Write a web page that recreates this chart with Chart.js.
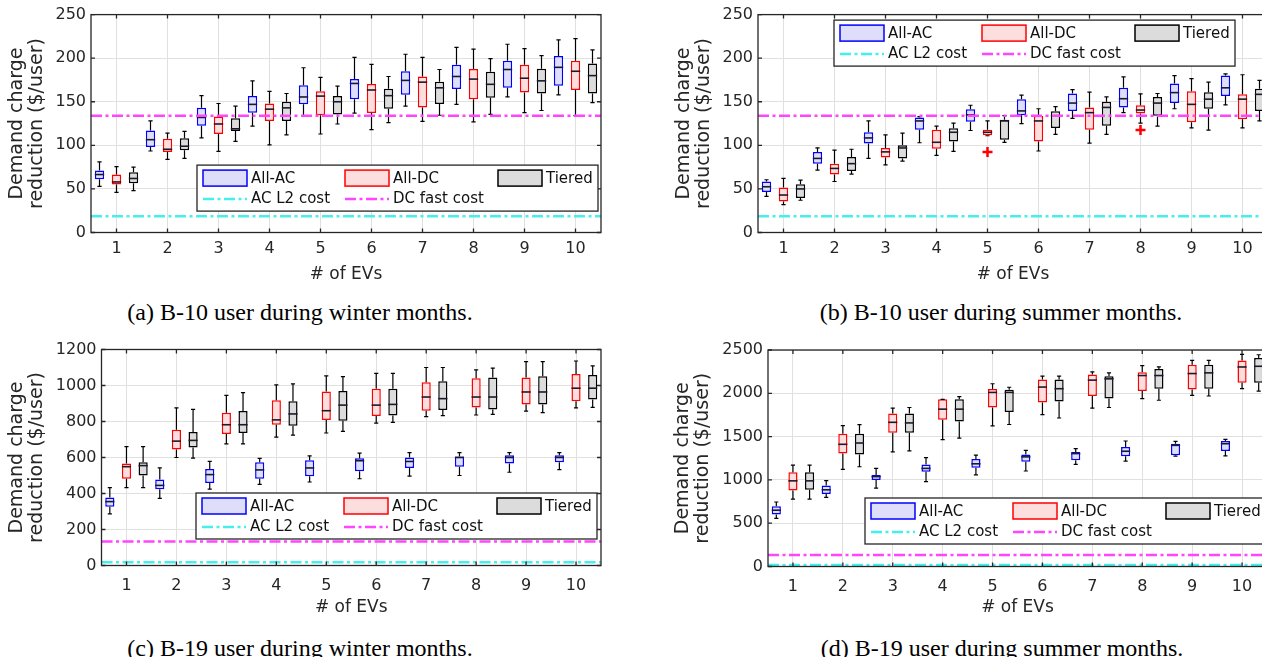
<!DOCTYPE html>
<html>
<head>
<meta charset="utf-8">
<script src="https://cdn.jsdelivr.net/npm/chart.js@4.4.0/dist/chart.umd.min.js"></script>
<style>
  body { margin: 0; width: 1262px; height: 657px; overflow: hidden; background: #fff; position: relative; }
  canvas { position: absolute; }
  .cap { position: absolute; width: 600px; text-align: center; white-space: nowrap;
         font-family: "Liberation Serif", "Times New Roman", serif; font-size: 24px; line-height: 28px; color: #000; }
</style>
</head>
<body>
<canvas id="chartA" width="610" height="290" style="left:0;top:0"></canvas>
<canvas id="chartB" width="610" height="290" style="left:667px;top:0"></canvas>
<canvas id="chartC" width="610" height="289" style="left:0;top:334px"></canvas>
<canvas id="chartD" width="610" height="289" style="left:666px;top:334px"></canvas>
<div class="cap" style="left:0;top:298px">(a) B-10 user during winter months.</div>
<div class="cap" style="left:701px;top:298px">(b) B-10 user during summer months.</div>
<div class="cap" style="left:0;top:634px">(c) B-19 user during winter months.</div>
<div class="cap" style="left:702px;top:634px">(d) B-19 user during summer months.</div>
<script>
const evCounts = ['1', '2', '3', '4', '5', '6', '7', '8', '9', '10'];
const seriesNames = ['All-AC', 'All-DC', 'Tiered'];
const costNames = ['AC L2 cost', 'DC fast cost'];
const costValues = [18.7, 134];

const yTicksB10 = [0, 50, 100, 150, 200, 250];
const yTicksB19Winter = [0, 200, 400, 600, 800, 1000, 1200];
const yTicksB19Summer = [0, 500, 1000, 1500, 2000, 2500];

// each box: [low whisker, q1, median, q3, high whisker]
const b10WinterAC = [[53, 61, 66.5, 71, 81], [93.5, 98, 106.5, 117, 128], [108.5, 122.5, 132, 143, 157], [122, 137.5, 147, 156.5, 174], [134, 147, 155.5, 169, 189], [137, 153, 171, 176, 201], [145, 158, 174.5, 185, 204.5], [147, 164.5, 179, 192.5, 212.5], [155.5, 166, 187, 197, 216], [158, 168.5, 189.5, 202.5, 221]];
const b10WinterDC = [[46, 55, 58, 66.5, 75.5], [84, 92.5, 95.5, 107.5, 114], [93, 113, 124.5, 133, 148], [100.5, 128, 141.5, 148, 162], [113, 134.5, 156.5, 162, 178], [118, 137, 163.5, 170.5, 193], [127.5, 143.5, 172.5, 179, 201], [127, 153, 176, 187.5, 210.5], [137.5, 160.5, 177, 192.5, 211], [134, 163.5, 185, 197, 222.5]];
const b10WinterTiered = [[48, 56.5, 62, 69, 75], [85, 94.5, 99, 108, 116], [104.5, 116.5, 119, 131, 145], [112, 128, 143, 150, 159.5], [124.5, 135.5, 150, 156.5, 168], [126, 142, 157, 165, 179], [134.5, 147.5, 166, 173, 187], [135.5, 154.5, 170, 184.5, 199.5], [140, 159.5, 174, 188, 203], [149, 159.5, 180, 194, 209.5]];

const b10SummerAC = [[41.5, 46.5, 52.5, 58.5, 60.5], [71.5, 79, 85, 92.5, 97], [85, 102, 108.5, 115, 128], [103, 118, 128, 132, 133], [117, 127, 135, 141.5, 146], [125, 134.5, 139.5, 153, 157.5], [131, 139.5, 148.5, 159.5, 164], [137.5, 143.5, 153.5, 166, 178.5], [142, 148.5, 160.5, 171, 180], [146.5, 156.5, 166, 180, 182]];
const b10SummerDC = [[32, 35.5, 43, 51.5, 62], [58.5, 66.5, 73.5, 79, 94.5], [77.5, 86, 92.5, 97, 112], [88.5, 96, 103.5, 118, 122], [111, 111.5, 115, 118, 128], [93.5, 104.5, 128, 134, 142], [102.5, 118, 137.5, 143.5, 161], [125.5, 136.5, 140.5, 146, 159], [120, 126.5, 147, 162, 176.5], [120, 130, 153, 158.5, 181]];
const b10SummerTiered = [[37, 39.5, 50, 55.5, 60], [67, 70.5, 79, 86.5, 95.5], [82, 85, 97, 100, 114], [93, 104.5, 115, 119.5, 125.5], [103.5, 106.5, 128, 129.5, 134], [112.5, 120, 134, 139, 144.5], [112.5, 122.5, 143.5, 150, 155.5], [122, 134, 148.5, 155.5, 159.5], [117.5, 142, 153, 161, 172.5], [128, 139.5, 158.5, 165, 174.5]];
const b10SummerDCOutliers = [null, null, null, null, 92.5, null, null, 117.5, null, null];

const b19WinterAC = [[287, 327, 355, 378, 433], [373, 424, 445, 478, 542], [424, 458, 505, 536, 578], [451, 482, 531, 573, 595], [464, 496, 542, 585, 609], [482, 524, 582, 596, 624], [496, 542, 578, 600, 627], [500, 549, 600, 605, 627], [518, 567, 600, 613, 627], [533, 573, 600, 613, 627]];
const b19WinterDC = [[433, 482, 549, 567, 660], [600, 645, 691, 754, 876], [676, 731, 782, 849, 945], [713, 782, 809, 918, 1004], [736, 809, 860, 967, 1054], [791, 831, 891, 982, 1067], [827, 860, 936, 1018, 1100], [836, 878, 936, 1040, 1087], [858, 894, 964, 1045, 1133], [876, 913, 985, 1064, 1136]];
const b19WinterTiered = [[433, 500, 555, 573, 660], [596, 655, 695, 742, 867], [676, 736, 782, 858, 960], [724, 776, 842, 913, 1009], [745, 804, 891, 969, 1049], [795, 833, 895, 982, 1067], [833, 864, 927, 1024, 1100], [840, 867, 936, 1045, 1096], [849, 895, 964, 1051, 1133], [878, 922, 985, 1058, 1109]];

const b19SummerAC = [[555, 601, 650, 696, 745], [798, 836, 886, 935, 992], [905, 1000, 1038, 1057, 1133], [981, 1095, 1133, 1179, 1258], [1057, 1141, 1186, 1240, 1285], [1103, 1209, 1266, 1293, 1342], [1179, 1228, 1304, 1323, 1361], [1217, 1274, 1331, 1380, 1449], [1274, 1285, 1399, 1418, 1445], [1277, 1335, 1418, 1449, 1467]];
const b19SummerDC = [[779, 878, 989, 1087, 1171], [1122, 1304, 1411, 1532, 1627], [1323, 1544, 1665, 1768, 1829], [1464, 1696, 1817, 1931, 1931], [1625, 1835, 2010, 2050, 2110], [1753, 1893, 2072, 2160, 2198], [1829, 1969, 2152, 2217, 2247], [1939, 2026, 2205, 2243, 2319], [1977, 2045, 2228, 2331, 2380], [2053, 2122, 2304, 2380, 2450]];
const b19SummerTiered = [[779, 886, 989, 1087, 1171], [1152, 1293, 1426, 1532, 1639], [1335, 1544, 1658, 1768, 1836], [1483, 1673, 1817, 1931, 1962], [1640, 1785, 2010, 2040, 2070], [1715, 1905, 2053, 2160, 2198], [1836, 1939, 2167, 2198, 2236], [1920, 2053, 2205, 2281, 2304], [1969, 2053, 2236, 2331, 2380], [2026, 2122, 2312, 2407, 2445]];

const edgeColors = ['#0000ff', '#ff0000', '#000000'];
const fillColors = ['rgb(222,222,250)', 'rgb(252,222,222)', 'rgb(220,220,220)'];
const costColors = ['rgb(70,238,238)', 'rgb(255,70,255)'];
const dashDot = [11, 3.5, 3, 3.5];
const axisColor = '#262626';
const sans = '"DejaVu Sans", "Liberation Sans", sans-serif';

function drawLegend(ctx, area, pos) {
    let left = area.left + pos.x, top = area.top + pos.y;
    ctx.save();
    ctx.fillStyle = '#fff';
    ctx.fillRect(left, top, 401, 46);
    ctx.strokeStyle = axisColor;
    ctx.lineWidth = 1.3;
    ctx.strokeRect(left, top, 401, 46);
    ctx.font = '15px ' + sans;
    ctx.textBaseline = 'middle';
    let cols = [6, 148, 301];
    seriesNames.forEach((name, i) => {
        let x = left + cols[i];
        ctx.fillStyle = fillColors[i];
        ctx.fillRect(x, top + 5, 44, 16);
        ctx.strokeStyle = edgeColors[i];
        ctx.lineWidth = 1.5;
        ctx.strokeRect(x, top + 5, 44, 16);
        ctx.fillStyle = '#111';
        ctx.fillText(name, x + 48, top + 14);
    });
    costNames.forEach((name, i) => {
        let x = left + cols[i];
        ctx.strokeStyle = costColors[i];
        ctx.lineWidth = 2.5;
        ctx.setLineDash(dashDot);
        ctx.beginPath();
        ctx.moveTo(x, top + 34);
        ctx.lineTo(x + 44, top + 34);
        ctx.stroke();
        ctx.setLineDash([]);
        ctx.fillStyle = '#111';
        ctx.fillText(name, x + 48, top + 34);
    });
    ctx.restore();
}

const boxPlotPlugin = {
    id: 'boxPlotExtras',
    afterDatasetsDraw(chart) {
        const ctx = chart.ctx;
        const y = chart.scales.y;
        const x = chart.scales.x;
        const area = chart.chartArea;

        // whiskers, medians, outliers
        chart.data.datasets.forEach((ds, i) => {
            chart.getDatasetMeta(i).data.forEach((bar, j) => {
                let s = ds.stats[j];
                let cx = bar.x, w = bar.width, cap = w * 0.45;
                ctx.save();
                ctx.strokeStyle = '#000';
                ctx.lineWidth = 1.2;
                ctx.beginPath();
                ctx.moveTo(cx, y.getPixelForValue(s[3]));
                ctx.lineTo(cx, y.getPixelForValue(s[4]));
                ctx.moveTo(cx, y.getPixelForValue(s[1]));
                ctx.lineTo(cx, y.getPixelForValue(s[0]));
                ctx.moveTo(cx - cap / 2, y.getPixelForValue(s[4]));
                ctx.lineTo(cx + cap / 2, y.getPixelForValue(s[4]));
                ctx.moveTo(cx - cap / 2, y.getPixelForValue(s[0]));
                ctx.lineTo(cx + cap / 2, y.getPixelForValue(s[0]));
                ctx.stroke();
                ctx.strokeStyle = '#1a1a2a';
                ctx.lineWidth = 1.6;
                ctx.beginPath();
                ctx.moveTo(cx - w / 2, y.getPixelForValue(s[2]));
                ctx.lineTo(cx + w / 2, y.getPixelForValue(s[2]));
                ctx.stroke();
                if (ds.outliers && ds.outliers[j] != null) {
                    let oy = y.getPixelForValue(ds.outliers[j]);
                    ctx.strokeStyle = edgeColors[i];
                    ctx.lineWidth = 2.5;
                    ctx.beginPath();
                    ctx.moveTo(cx - 5, oy); ctx.lineTo(cx + 5, oy);
                    ctx.moveTo(cx, oy - 5); ctx.lineTo(cx, oy + 5);
                    ctx.stroke();
                }
                ctx.restore();
            });
        });

        // cost lines
        ctx.save();
        ctx.lineWidth = 2.5;
        ctx.setLineDash(dashDot);
        costValues.forEach((v, i) => {
            let py = y.getPixelForValue(v);
            ctx.strokeStyle = costColors[i];
            ctx.beginPath();
            ctx.moveTo(area.left, py);
            ctx.lineTo(area.right, py);
            ctx.stroke();
        });
        ctx.restore();

        // axes box with inward ticks
        ctx.save();
        ctx.strokeStyle = axisColor;
        ctx.lineWidth = 1.3;
        ctx.strokeRect(area.left, area.top, area.right - area.left, area.bottom - area.top);
        ctx.beginPath();
        x.ticks.forEach((t, k) => {
            let px = x.getPixelForTick(k);
            ctx.moveTo(px, area.bottom); ctx.lineTo(px, area.bottom - 4);
            ctx.moveTo(px, area.top); ctx.lineTo(px, area.top + 4);
        });
        y.ticks.forEach(t => {
            let py = y.getPixelForValue(t.value);
            ctx.moveTo(area.left, py); ctx.lineTo(area.left + 4, py);
            ctx.moveTo(area.right, py); ctx.lineTo(area.right - 4, py);
        });
        ctx.stroke();
        ctx.restore();

        drawLegend(ctx, area, chart.options.plugins.boxPlotExtras.legendPos);
    }
};

function makeChart(id, boxes, outliers, yTicks, lay) {
    let ctx = document.getElementById(id).getContext('2d');
    return new Chart(ctx, {
        type: 'bar',
        data: {
            labels: evCounts,
            datasets: boxes.map((b, i) => ({
                label: seriesNames[i],
                data: b.map(s => [s[1], s[3]]),
                stats: b,
                outliers: outliers[i],
                backgroundColor: fillColors[i],
                borderColor: edgeColors[i],
                borderWidth: 1.5,
                borderSkipped: false,
                categoryPercentage: 1.0,
                barPercentage: 0.55
            }))
        },
        options: {
            responsive: false,
            animation: false,
            layout: { autoPadding: false, padding: { top: lay.padTop, right: 9, left: 0, bottom: 0 } },
            plugins: {
                legend: { display: false },
                tooltip: { enabled: false },
                boxPlotExtras: { legendPos: lay.legend }
            },
            scales: {
                x: {
                    offset: true,
                    grid: { offset: false, drawTicks: false, color: '#e0e0e0' },
                    border: { display: false },
                    ticks: { color: axisColor, font: { family: sans, size: 16 }, padding: lay.xTickPad },
                    title: { display: true, text: '# of EVs', color: axisColor, font: { family: sans, size: 17 }, padding: { top: 0, bottom: 5 } },
                    afterFit: s => { s.height = lay.xAxisH; }
                },
                y: {
                    min: yTicks[0],
                    max: yTicks[yTicks.length - 1],
                    afterBuildTicks: s => { s.ticks = yTicks.map(v => ({ value: v })); },
                    grid: { drawTicks: false, color: '#e0e0e0' },
                    border: { display: false },
                    ticks: { color: axisColor, font: { family: sans, size: 16 }, padding: 5, callback: v => String(v) },
                    title: { display: true, text: ['Demand charge', 'reduction ($/user)'], color: axisColor, font: { family: sans, size: 19, lineHeight: 1.05 }, padding: { top: 7, bottom: 0 } },
                    afterFit: s => { s.width = lay.axisW; }
                }
            }
        },
        plugins: [boxPlotPlugin]
    });
}

const none = [null, null, null];

makeChart('chartA', [b10WinterAC, b10WinterDC, b10WinterTiered], none, yTicksB10,
    { padTop: 14.5, axisW: 91, xAxisH: 57.5, xTickPad: 7, legend: { x: 106, y: 150.5 } });
makeChart('chartB', [b10SummerAC, b10SummerDC, b10SummerTiered], [null, b10SummerDCOutliers, null], yTicksB10,
    { padTop: 14.5, axisW: 91, xAxisH: 57.5, xTickPad: 7, legend: { x: 76, y: 5.5 } });
makeChart('chartC', [b19WinterAC, b19WinterDC, b19WinterTiered], none, yTicksB19Winter,
    { padTop: 15.5, axisW: 101.5, xAxisH: 57.5, xTickPad: 11, legend: { x: 94.5, y: 143.5 } });
makeChart('chartD', [b19SummerAC, b19SummerDC, b19SummerTiered], none, yTicksB19Summer,
    { padTop: 16, axisW: 102, xAxisH: 56.5, xTickPad: 11, legend: { x: 97, y: 148 } });
</script>
</body>
</html>
